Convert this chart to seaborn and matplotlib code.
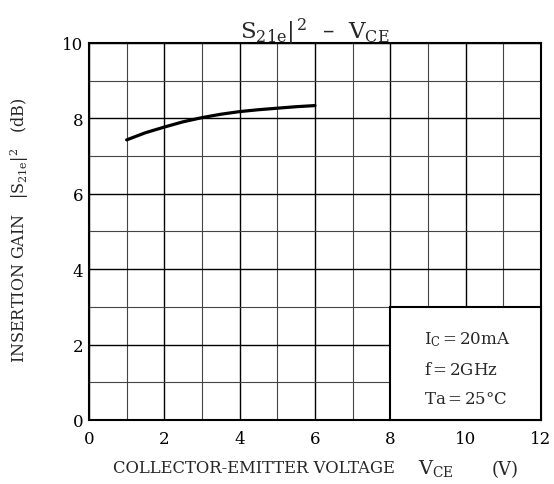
import matplotlib
matplotlib.use("Agg")
import matplotlib.pyplot as plt
import matplotlib.transforms as mtransforms
from matplotlib.patches import Rectangle
import seaborn as sns
import pandas as pd

# data
vce = [1, 1.5, 2, 2.5, 3, 3.5, 4, 4.5, 5, 5.5, 6]
gain = [7.43, 7.62, 7.77, 7.91, 8.02, 8.11, 8.18, 8.23, 8.27, 8.31, 8.34]
x_ticks = [0, 2, 4, 6, 8, 10, 12]
y_ticks = [0, 2, 4, 6, 8, 10]
cond_lines = ["$\\mathregular{I_C}$$\\,$=$\\,$20mA", "f$\\,$=$\\,$2GHz", "Ta$\\,$=$\\,$25°C"]

sns.set_theme(style="white")
plt.rcParams['font.family'] = ['DejaVu Serif']
plt.rcParams['mathtext.fontset'] = 'dejavuserif'

df = pd.DataFrame({"VCE": vce, "Gain": gain})

fig = plt.figure(figsize=(5.54, 4.85), dpi=100)
ax = fig.add_axes([0.1606, 0.132, 0.8159, 0.7773])

sns.lineplot(data=df, x="VCE", y="Gain", ax=ax, color="black", linewidth=2.3, zorder=5)

ax.set_xlim(0, 12)
ax.set_ylim(0, 10)
ax.set_xticks(x_ticks)
ax.set_yticks(y_ticks)
ax.set_xticks(range(0, 13), minor=True)
ax.set_yticks(range(0, 11), minor=True)
ax.tick_params(which="both", length=0)
ax.tick_params(axis="x", pad=7, labelsize=12, colors="black")
ax.tick_params(axis="y", pad=4, labelsize=12, colors="black")
ax.grid(which="major", color="black", linewidth=1.0)
ax.grid(which="minor", color="#444444", linewidth=0.8)
ax.set_axisbelow(True)
for s in ax.spines.values():
    s.set_color("black")
    s.set_linewidth(1.5)

# condition box
ax.add_patch(Rectangle((8, 0), 4, 3, facecolor="white", edgecolor="black",
                       linewidth=1.5, zorder=3, clip_on=False))
for txt, yy in zip(cond_lines, [2.15, 1.35, 0.58]):
    ax.text(8.9, yy, txt, fontsize=12, va="center", ha="left", zorder=6)

ax.set_xlabel("")
ax.set_ylabel("")
ax.text(-0.153, 0.507, "INSERTION GAIN   $|\\mathregular{S_{21e}}|^2$   (dB)",
        transform=ax.transAxes, rotation=90, ha="center", va="center", fontsize=11.5)

trans = mtransforms.blended_transform_factory(ax.transData, ax.transAxes)
ax.text(8.12, -0.138, "COLLECTOR-EMITTER VOLTAGE", transform=trans, ha="right",
        va="baseline", fontsize=11.8)
ax.text(9.2, -0.141, "$\\mathregular{V_{CE}}$", transform=trans, ha="center",
        va="baseline", fontsize=14)
ax.text(11.04, -0.130, "(V)", transform=trans, ha="center", va="center", fontsize=13)

ax.set_title("$\\mathregular{S_{21e}|^{\\,2}}$  –  $\\mathregular{V_{CE}}$", fontsize=16.5, pad=4)

fig.savefig("out.png", dpi=100)
